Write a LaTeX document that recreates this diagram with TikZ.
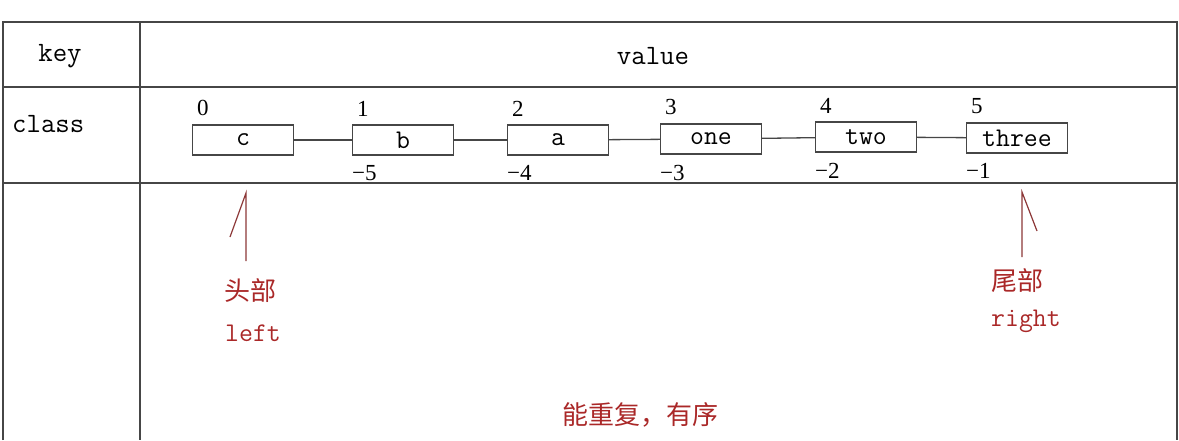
\documentclass[tikz,border=0pt]{standalone}
\usepackage{fontspec}
\newfontfamily\cjk{Noto Sans CJK SC}
\newfontfamily\numfont{Liberation Serif}
\usetikzlibrary{positioning}

\definecolor{notered}{RGB}{170,40,40}
\definecolor{pointerred}{RGB}{140,55,55}
\definecolor{rulegray}{RGB}{70,70,70}

\tikzset{
  tbl/.style={draw=rulegray, line width=1.3pt},
  cell/.style={inner sep=0pt, font=\ttfamily\fontsize{28}{30}\selectfont},
  elem/.style={draw=rulegray, line width=1.2pt, minimum width=101pt, minimum height=30pt, inner sep=0pt, font=\ttfamily\fontsize{27}{30}\selectfont},
  link/.style={draw=rulegray, line width=1.3pt},
  idx/.style={inner sep=0pt, font=\numfont\fontsize{23}{25}\selectfont},
  up/.style={idx, anchor=south west, xshift=5pt, yshift=8pt},
  down/.style={idx, anchor=north west, yshift=-10pt},
  note/.style={inner sep=0pt, text=notered, font=\cjk\fontsize{26}{30}\selectfont},
  noteen/.style={inner sep=0pt, text=notered, font=\ttfamily\fontsize{27}{30}\selectfont},
  pointer/.style={draw=pointerred, line width=1.2pt},
}

\begin{document}
\begin{tikzpicture}[x=1pt, y=-1pt]
  \useasboundingbox (0,0) rectangle (1179,440);

  % table
  \draw[tbl] (3,440) -- (3,22) -- (1177,22) -- (1177,440);
  \draw[tbl] (140,22) -- (140,440);
  \draw[tbl] (3,87) -- (1177,87);
  \draw[tbl] (3,183) -- (1177,183);

  \node (key) at (60,56) [cell] {key};
  \node (value) at (653,56) [cell] {value};
  \node (class) at (12,124) [cell, anchor=west] {class};

  % list
  \node (c) at (243,140) [elem, label={[up]north west:0}] {c};
  \node (b) at (403,140) [elem, label={[up]north west:1}, label={[down]south west:−5}] {b};
  \node (a) at (558,140) [elem, label={[up]north west:2}, label={[down]south west:−4}] {a};
  \node (one) at (711,139) [elem, label={[up]north west:3}, label={[down]south west:−3}] {one};
  \node (two) at (866,137) [elem, label={[up]north west:4}, label={[down]south west:−2}] {two};
  \node (three) at (1017,138) [elem, label={[up]north west:5}, label={[down]south west:−1}] {three};

  \draw[link] (c) -- (b);
  \draw[link] (b) -- (a);
  \draw[link] (a) -- (one);
  \draw[link] (one) -- (two);
  \draw[link] (two) -- (three);

  % head / tail
  \coordinate (headtip) at (246,193);
  \coordinate (headfoot) at (246,261);
  \coordinate (headbarb) at (230,237);
  \draw[pointer] (headfoot) -- (headtip) -- (headbarb);
  \node (head) at (250,291) [note] {头部};
  \node (left) at (253,333) [noteen] {left};

  \coordinate (tailtip) at (1022,192);
  \coordinate (tailfoot) at (1022,257);
  \coordinate (tailbarb) at (1037,231);
  \draw[pointer] (tailfoot) -- (tailtip) -- (tailbarb);
  \node (tail) at (1017,281) [note] {尾部};
  \node (right) at (1026,321) [noteen] {right};

  \node (rule) at (640,415) [note] {能重复，有序};
\end{tikzpicture}
\end{document}
